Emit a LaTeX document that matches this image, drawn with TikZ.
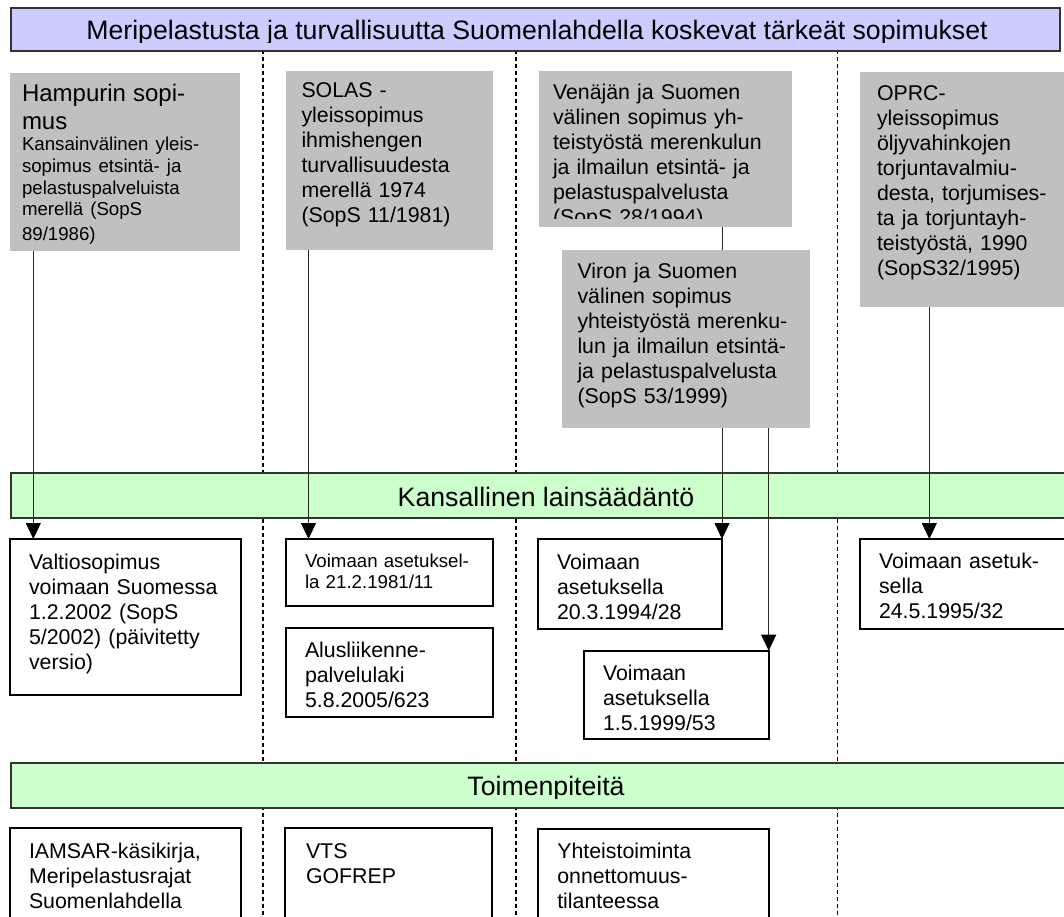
\documentclass[tikz,border=0pt]{standalone}
\usepackage{fontspec}
\setmainfont{Liberation Sans}
\usetikzlibrary{arrows.meta}
\definecolor{titleblue}{HTML}{CCCCFF}
\definecolor{bandgreen}{HTML}{CCFFCC}
\definecolor{treatygray}{HTML}{C0C0C0}
\pgfdeclarelayer{back}
\pgfdeclarelayer{links}
\pgfsetlayers{back,links,main}
\begin{document}
\begin{tikzpicture}[
  x=1pt, y=-1pt,
  font=\fontsize{21.33}{25}\selectfont,
  titlebar/.style={draw=black!80, line width=2pt, fill=titleblue, anchor=north west, inner sep=0pt, minimum width=1049pt, minimum height=42.2pt},
  band/.style={draw=black!80, line width=2pt, fill=bandgreen, anchor=north west, inner sep=0pt, minimum width=1070pt, minimum height=45pt},
  heading/.style={anchor=base, font=\fontsize{26.67}{30}\selectfont},
  treaty/.style={fill=treatygray, anchor=north west, align=left, outer sep=0pt, inner xsep=15pt, inner ysep=0pt, text height=28pt},
  act/.style={draw=black, line width=2pt, fill=white, anchor=north west, align=left, outer sep=0pt, inner xsep=19pt, inner ysep=0pt, text height=29.5pt},
  smalltext/.style={font=\fontsize{18.67}{21.5}\selectfont},
  divider/.style={draw=black, line width=1.2pt, dash pattern=on 4pt off 3pt},
  link/.style={draw=black!85, line width=0.8pt},
  into/.style={link, -{Triangle[width=15pt, length=16pt, black]}}
]
  \useasboundingbox (0,0) rectangle (1064,916);

  % otsikko
  \node[titlebar] (otsikko) at (10,7.3) {};
  \begin{scope}
    \clip (otsikko.north west) rectangle ([yshift=9.3pt]otsikko.south east);
    \node[heading] (otsikkoteksti) at ([xshift=1.5pt, yshift=-9.9pt]otsikko.center)
      {Meripelastusta ja turvallisuutta Suomenlahdella koskevat tärkeät sopimukset};
  \end{scope}

  % sopimukset
  \node[treaty, inner xsep=12pt, text width=206pt, text height=29pt, text depth=149pt] (hampuri) at (10,72.7)
    {{\fontsize{24}{27.6}\selectfont Hampurin sopi-\\mus\par}%
     \fontsize{18.67}{21.6}\selectfont Kansainvälinen yleis-\\sopimus etsintä- ja\\pelastuspalveluista\\merellä (SopS\\89/1986)};
  \node[treaty, inner xsep=15.5pt, text width=176pt, text height=26.3pt, text depth=152.7pt] (solas) at (286,71)
    {SOLAS -\\yleissopimus\\ihmishengen\\turvallisuudesta\\merellä 1974\\(SopS 11/1981)};
  \node[treaty, inner xsep=14pt, text width=225pt, text depth=128.3pt] (venaja) at (539,71) {};
  \begin{scope}
    \clip (venaja.north west) rectangle ([yshift=9pt]venaja.south east);
    \node[treaty, fill=none, inner xsep=14pt, text width=225pt, text depth=128.3pt] (venajateksti) at (venaja.north west)
      {Venäjän ja Suomen\\välinen sopimus yh-\\teistyöstä merenkulun\\ja ilmailun etsintä- ja\\pelastuspalvelusta\\(SopS 28/1994)};
  \end{scope}
  \node[treaty, inner xsep=15.5pt, text width=217pt, text height=28.3pt, text depth=149.7pt] (viro) at (562,250)
    {Viron ja Suomen\\välinen sopimus\\yhteistyöstä merenku-\\lun ja ilmailun etsintä-\\ja pelastuspalvelusta\\(SopS 53/1999)};
  \node[treaty, inner xsep=17pt, text width=196pt, text height=27.7pt, text depth=207.3pt] (oprc) at (860,72.3)
    {OPRC-\\yleissopimus\\öljyvahinkojen\\torjuntavalmiu-\\desta, torjumises-\\ta ja torjuntayh-\\teistyöstä, 1990\\(SopS32/1995)};

  % kansallinen lainsäädäntö
  \node[act, text width=192.7pt, text height=30pt, text depth=126.3pt] (valtio) at (10,539)
    {Valtiosopimus\\voimaan Suomessa\\1.2.2002 (SopS\\5/2002) (päivitetty\\versio)};
  \node[act, smalltext, text width=169pt, text height=28.2pt, text depth=38.5pt] (solasasetus) at (286,539)
    {Voimaan asetuksel-\\la 21.2.1981/11};
  \node[act, text width=169pt, text height=29pt, text depth=60.3pt] (alus) at (286,628)
    {Alusliikenne-\\palvelulaki\\5.8.2005/623};
  \node[act, text width=146pt, text height=30pt, text depth=59.7pt] (venajaasetus) at (538,539)
    {Voimaan\\asetuksella\\20.3.1994/28};
  \node[act, text width=146.7pt, text height=29.3pt, text depth=59.3pt] (viroasetus) at (584,650.7)
    {Voimaan\\asetuksella\\1.5.1999/53};
  \node[act, text width=192pt, text height=29.5pt, text depth=60.2pt] (oprcasetus) at (860,539)
    {Voimaan asetuk-\\sella\\24.5.1995/32};

  % toimenpiteet
  \node[act, text width=192.8pt, text height=30pt, text depth=72pt] (iamsar) at (10,828.3)
    {IAMSAR-käsikirja,\\Meripelastusrajat\\Suomenlahdella};
  \node[act, inner xsep=21pt, text width=165pt, text height=30pt, text depth=72pt] (vts) at (285,828.3)
    {VTS\\GOFREP};
  \node[act, text width=192.4pt, text height=29.3pt, text depth=72.7pt] (yhteis) at (538.3,829)
    {Yhteistoiminta\\onnettomuus-\\tilanteessa};

  \begin{pgfonlayer}{back}
    \foreach \x in {263,516,837.5}
      \draw[divider] (\x,49.5) -- (\x,916);
    \node[band] (kansallinen) at (10,472.3) {};
    \begin{scope}
      \clip (kansallinen.north west) rectangle ([yshift=10pt]kansallinen.south east);
      \node[heading] (kansallinenteksti) at ([yshift=-10.5pt]kansallinen.center) {Kansallinen lainsäädäntö};
    \end{scope}
    \node[band] (toimenpiteet) at (10,761.7) {};
    \begin{scope}
      \clip (toimenpiteet.north west) rectangle ([yshift=10pt]toimenpiteet.south east);
      \node[heading] (toimenpiteetteksti) at ([yshift=-10.5pt]toimenpiteet.center) {Toimenpiteitä};
    \end{scope}
  \end{pgfonlayer}

  \begin{pgfonlayer}{links}
    \draw[into] ([xshift=23.3pt]hampuri.south west) -- ([xshift=23.3pt]valtio.north west);
    \draw[into] ([xshift=22.5pt]solas.south west) -- ([xshift=22.5pt]solasasetus.north west);
    \draw[into] (venaja.south -| venajaasetus.north east) -- (venajaasetus.north east);
    \draw[into] (viro.south -| viroasetus.north east) -- (viroasetus.north east);
    \draw[into] ([xshift=69.3pt]oprc.south west) -- ([xshift=69.3pt]oprcasetus.north west);
  \end{pgfonlayer}
\end{tikzpicture}
\end{document}
